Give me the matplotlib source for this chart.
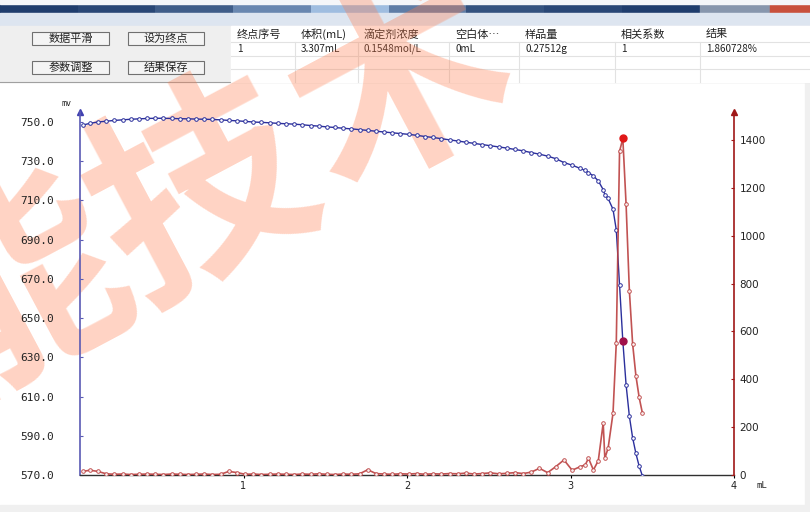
import matplotlib.pyplot as plt
from matplotlib.patches import Rectangle
from matplotlib.colors import LinearSegmentedColormap
import numpy as np

plt.rcParams['font.family'] = ['Noto Sans CJK SC', 'DejaVu Sans']

# 滴定数据: 体积 (mL), 电位 (mV), 一阶导数
volume = [
    0.02, 0.06, 0.11, 0.16, 0.21, 0.26, 0.31, 0.36, 0.41, 0.46,
    0.51, 0.56, 0.61, 0.66, 0.71, 0.76, 0.81, 0.86, 0.91, 0.96,
    1.01, 1.06, 1.11, 1.16, 1.21, 1.26, 1.31, 1.36, 1.41, 1.46,
    1.51, 1.56, 1.61, 1.66, 1.71, 1.76, 1.81, 1.86, 1.91, 1.96,
    2.01, 2.06, 2.11, 2.16, 2.21, 2.26, 2.31, 2.36, 2.41, 2.46,
    2.51, 2.56, 2.61, 2.66, 2.71, 2.76, 2.81, 2.86, 2.91, 2.96,
    3.01, 3.06, 3.09, 3.11, 3.14, 3.17, 3.20, 3.21, 3.23, 3.26,
    3.28, 3.30, 3.32, 3.34, 3.36, 3.38, 3.40, 3.42, 3.44,
]
potential = [
    748.5, 749.3, 750.0, 750.4, 750.8, 751.1, 751.4, 751.6, 751.8, 751.9,
    751.9, 751.8, 751.7, 751.6, 751.5, 751.4, 751.3, 751.1, 750.8, 750.6,
    750.3, 750.0, 749.8, 749.6, 749.3, 749.1, 748.9, 748.6, 748.2, 747.9,
    747.5, 747.2, 746.8, 746.5, 746.1, 745.7, 745.3, 744.9, 744.5, 744.1,
    743.7, 743.2, 742.6, 742.1, 741.5, 740.9, 740.3, 739.7, 739.1, 738.5,
    737.9, 737.3, 736.7, 736.0, 735.3, 734.4, 733.6, 732.6, 731.3, 729.3,
    728.0, 726.3, 725.3, 724.2, 722.5, 720.0, 715.5, 713.0, 711.0, 705.5,
    695.0, 667.0, 638.3, 616.0, 600.0, 589.0, 581.0, 574.5, 569.5,
]
deriv = [
    15, 20, 15, 5, 3, 4, 2, 3, 4, 3,
    2, 4, 3, 2, 3, 4, 2, 3, 15, 10,
    3, 4, 2, 3, 4, 3, 2, 4, 3, 5,
    3, 2, 4, 3, 5, 22, 6, 4, 3, 5,
    4, 6, 3, 5, 4, 6, 5, 8, 4, 6,
    9, 5, 7, 10, 6, 12, 28, 10, 35, 63,
    20, 35, 42, 70, 21, 60, 217, 70, 112, 258,
    552, 1352, 1407, 1131, 771, 548, 415, 324, 258,
]
end_idx = 72  # 终点所在点

left_ticks = [570, 590, 610, 630, 650, 670, 690, 710, 730, 750]
right_ticks = [0, 200, 400, 600, 800, 1000, 1200, 1400]
x_ticks = [1, 2, 3, 4]

buttons = ['数据平滑', '设为终点', '参数调整', '结果保存']
table_headers = ['终点序号', '体积(mL)', '滴定剂浓度', '空白体…', '样品量', '相关系数', '结果']
table_row = ['1', '3.307mL', '0.1548mol/L', '0mL', '0.27512g', '1', '1.860728%']
watermark = '能技术'

W, H = 810, 512
fig = plt.figure(figsize=(W / 100, H / 100), dpi=100)

# ---- 窗口界面部分 (像素坐标) ----
ui = fig.add_axes([0, 0, 1, 1], zorder=-1)
ui.axis('off')

ui.add_patch(Rectangle((0, 0), W, H, color='white', zorder=0))
# 标题栏
grad = np.array([[0.0, 0.05, 0.15, 0.35, 0.6, 0.3, 0.1, 0.05, 0.0]])
ui.imshow(grad, cmap=LinearSegmentedColormap.from_list('tb', ['#1f3d6d', '#9fbde0']),
          extent=[0, 700, 13, 4], aspect='auto', zorder=2)
ui.add_patch(Rectangle((0, 0), W, 4, color='#f4f6f9', zorder=3))
ui.add_patch(Rectangle((700, 4), 70, 9, color='#8796ad', zorder=2))
ui.add_patch(Rectangle((770, 4), 40, 9, color='#c8503c', zorder=2))
ui.add_patch(Rectangle((0, 13), W, 13, color='#dde5f0', zorder=2))
ui.add_patch(Rectangle((0, 26), W, 56, color='#efefef', zorder=2))
ui.plot([0, W], [82, 82], color='#a0a0a0', lw=0.8, zorder=3)

# 按钮
btn_pos = [(32, 32), (128, 32), (32, 61), (128, 61)]
for (bx, by), name in zip(btn_pos, buttons):
    bw = 77 if bx == 32 else 76
    ui.add_patch(Rectangle((bx, by), bw, 13, facecolor='#f4f4f4',
                           edgecolor='#707070', lw=0.8, zorder=3))
    ui.text(bx + bw / 2, by + 6.8, name, ha='center', va='center',
            fontsize=8, color='#222222', zorder=4)

# 表格
ui.add_patch(Rectangle((231, 26), W - 231, 56, color='white', zorder=3))
col_x = [231, 295, 358, 449, 519, 615, 700]
for cx in col_x[1:]:
    ui.plot([cx, cx], [42, 82], color='#e2e2e2', lw=0.8, zorder=4)
for ry in [42, 56, 69]:
    ui.plot([231, W], [ry, ry], color='#e2e2e2', lw=0.8, zorder=4)
for cx, head, val in zip(col_x, table_headers, table_row):
    ui.text(cx + 6, 34.5, head, ha='left', va='center', fontsize=8,
            color='#222222', zorder=4)
    ui.text(cx + 6, 49, val, ha='left', va='center', fontsize=7.2,
            color='#222222', zorder=4)

ui.add_patch(Rectangle((0, 505), W, 7, color='#f0f0f0', zorder=2))
ui.add_patch(Rectangle((805, 82), 5, 423, color='#f0f0f0', zorder=2))

# 水印
for ch, (cx, cy) in zip(watermark, [(18, 292), (203, 195), (402, 88)]):
    ui.text(cx, cy, ch, fontsize=155, fontweight='bold', color='#ff7a4a',
            alpha=0.33, rotation=28, ha='center', va='center', zorder=5)

ui.set_xlim(0, W)
ui.set_ylim(H, 0)

# ---- 曲线图 ----
x0, x1 = 80, 734
y_bot, y_top = 475, 112
ax = fig.add_axes([x0 / W, (H - y_bot) / H, (x1 - x0) / W, (y_bot - y_top) / H])
ax.patch.set_alpha(0)
ax.set_xlim(0, 4)
ax.set_ylim(570, 755.1)

ax2 = ax.twinx()
ax2.set_ylim(0, 1517)

blue = '#2b2f9c'
red = '#bb4040'

ax.plot(volume, potential, color=blue, lw=1.0, marker='o', ms=2.6,
        mfc='white', mec=blue, mew=0.7, zorder=3)
ax2.plot(volume, deriv, color=red, lw=1.2, marker='o', ms=2.6,
         mfc='white', mec=red, mew=0.7, alpha=0.9, zorder=3)
ax.plot(volume[end_idx], potential[end_idx], 'o', color='#a0104a', ms=5, zorder=4)
ax2.plot(volume[end_idx], deriv[end_idx], 'o', color='#e01818', ms=5, zorder=4)

ax.spines['top'].set_visible(False)
ax2.spines['top'].set_visible(False)
ax.spines['right'].set_visible(False)
ax2.spines['left'].set_visible(False)
ax2.spines['bottom'].set_visible(False)
ax.spines['left'].set_color('#5a5ab4')
ax.spines['left'].set_linewidth(1.2)
ax.spines['bottom'].set_color('#303030')
ax.spines['bottom'].set_linewidth(1.0)
ax2.spines['right'].set_color('#a01818')
ax2.spines['right'].set_linewidth(1.2)

# 轴箭头
ax.plot(0, 755.1, marker='^', color='#4040b0', ms=5, clip_on=False)
ax2.plot(4, 1517, marker='^', color='#a01818', ms=5, clip_on=False)

ax.set_yticks(left_ticks)
ax.set_yticklabels([f'{v:.1f}' for v in left_ticks], family='DejaVu Sans Mono',
                   fontsize=8, color='#222222')
ax.tick_params(axis='y', direction='in', length=2, pad=19, color='#5a5ab4')
ax2.set_yticks(right_ticks)
ax2.set_yticklabels([str(v) for v in right_ticks], family='DejaVu Sans',
                    fontsize=7.5, color='#222222')
ax2.tick_params(axis='y', direction='in', length=2, pad=4, color='#a01818')
ax.set_xticks(x_ticks)
ax.set_xticklabels([str(v) for v in x_ticks], family='DejaVu Sans',
                   fontsize=7, color='#222222')
ax.tick_params(axis='x', direction='out', length=2, pad=2)

fig.text(66 / W, 1 - 103 / H, 'mv', fontsize=6, family='DejaVu Sans Mono',
         ha='center', va='center', color='#222222')
fig.text(762 / W, 1 - 485 / H, 'mL', fontsize=6.5, family='DejaVu Sans Mono',
         ha='center', va='center', color='#222222')

fig.savefig('out.png', dpi=100)
